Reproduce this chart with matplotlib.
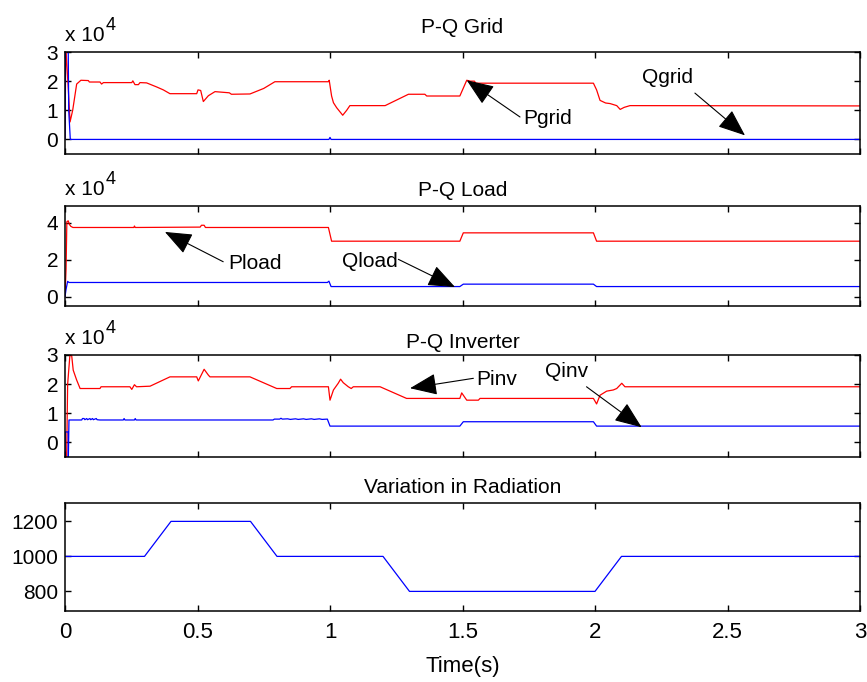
import matplotlib

matplotlib.use("Agg")
import matplotlib.pyplot as plt
import numpy as np

plt.rcParams["font.family"] = ["Liberation Sans", "DejaVu Sans"]
plt.rcParams["font.size"] = 15

# --- data (power in W / VAr) ---
t_pgrid = [0.0, 0.003, 0.012, 0.019, 0.029, 0.044, 0.060, 0.088, 0.092, 0.132,
           0.138, 0.145, 0.252, 0.256, 0.264, 0.277, 0.283, 0.308, 0.346, 0.371,
           0.396, 0.497, 0.502, 0.512, 0.522, 0.541, 0.566, 0.620, 0.628, 0.698,
           0.750, 0.792, 0.994, 0.997, 1.006, 1.013, 1.025, 1.048, 1.063, 1.075,
           1.208, 1.296, 1.358, 1.365, 1.490, 1.516, 1.530, 1.545, 1.550, 1.994,
           2.006, 2.019, 2.040, 2.057, 2.082, 2.095, 2.110, 2.132, 3.0]
p_grid = [0, 32000, 18000, 6000, 10000, 19000, 20300, 20200, 19700, 19700,
          19000, 19500, 19500, 20100, 18800, 18800, 19500, 19400, 18000, 17000,
          15700, 15700, 17000, 16800, 13000, 15000, 16400, 16000, 15500, 15600,
          17500, 19800, 19800, 20300, 14900, 12600, 10900, 8300, 10000, 11600,
          11600, 15500, 15500, 14900, 14900, 20300, 20000, 20000, 19300, 19300,
          17000, 13400, 12500, 12300, 11600, 10300, 11000, 11600, 11500]

t_qgrid = [0.0, 0.002, 0.012, 0.014, 0.020, 0.996, 1.0, 1.004, 3.0]
q_grid = [0, 35000, 33000, 10000, 0, 0, 700, 0, 0]

t_pload = [0.0, 0.004, 0.007, 0.012, 0.017, 0.022, 0.030, 0.260, 0.262, 0.265,
           0.510, 0.515, 0.525, 0.530, 0.994, 1.006, 1.490, 1.503, 1.994, 2.006, 3.0]
p_load = [0, 15000, 40500, 41000, 39000, 38000, 37400, 37400, 38200, 37400,
          37600, 38600, 38600, 37400, 37400, 30000, 30000, 34500, 34500, 30000, 30000]

t_qload = [0.0, 0.004, 0.010, 0.015, 0.990, 0.996, 1.004, 1.490, 1.503, 1.994, 2.006, 3.0]
q_load = [0, 4000, 8300, 7700, 7700, 8400, 5500, 5500, 6800, 6800, 5500, 5500]

t_pinv = [0.0, 0.006, 0.010, 0.019, 0.025, 0.031, 0.044, 0.057, 0.132, 0.136,
          0.245, 0.252, 0.262, 0.270, 0.321, 0.396, 0.497, 0.503, 0.525, 0.541,
          0.547, 0.698, 0.799, 0.849, 0.855, 0.994, 1.000, 1.013, 1.031, 1.040,
          1.050, 1.069, 1.080, 1.088, 1.189, 1.289, 1.490, 1.497, 1.516, 1.560,
          1.566, 1.994, 2.006, 2.019, 2.044, 2.069, 2.082, 2.101, 2.113, 3.0]
p_inv = [-6000, -6000, 20000, 30500, 30000, 24800, 21400, 18500, 18500, 19100,
         19100, 18200, 19800, 19100, 19300, 22500, 22500, 21100, 25100, 23100,
         22500, 22500, 18500, 18500, 19100, 19100, 14500, 18000, 20300, 21700,
         20500, 19100, 18500, 19100, 19100, 15100, 15100, 17000, 14500, 14500,
         15100, 15100, 13200, 16200, 17600, 18000, 18500, 20300, 19100, 19100]

t_qinv = [0.0, 0.001, 0.012, 0.0125, 0.015, 0.063, 0.066, 0.072, 0.075, 0.082,
          0.085, 0.094, 0.097, 0.104, 0.107, 0.118, 0.121, 0.132, 0.220, 0.223,
          0.226, 0.262, 0.265, 0.268, 0.785, 0.790, 0.810, 0.815, 0.820, 0.840,
          0.850, 0.870, 0.880, 0.900, 0.910, 0.930, 0.940, 0.960, 0.970, 0.990,
          1.000, 1.490, 1.503, 1.994, 2.006, 3.0]
q_inv = [-6000, 3600, 3600, -6000, 7700, 7700, 8200, 8200, 7800, 8200,
         7800, 8200, 7800, 8200, 7800, 8200, 7800, 7700, 7700, 8200,
         7700, 7700, 8200, 7700, 7700, 8000, 8000, 8300, 8000, 8100,
         7900, 8100, 7900, 8100, 7900, 8100, 7900, 8100, 7900, 8000,
         5600, 5600, 7100, 7100, 5600, 5600]

t_rad = [0.0, 0.3, 0.4, 0.7, 0.8, 1.2, 1.3, 2.0, 2.1, 3.0]
radiation = [1000, 1000, 1200, 1200, 1000, 1000, 800, 800, 1000, 1000]

titles = ["P-Q Grid", "P-Q Load", "P-Q Inverter", "Variation in Radiation"]
x_ticks = [0, 0.5, 1, 1.5, 2, 2.5, 3]

scale = 1e4
fig = plt.figure(figsize=(8.67, 6.82), dpi=100)
left, width = 65 / 867, 795 / 867
boxes = [(52, 154), (206, 306), (355, 457), (503, 611)]
axes = []
for top, bot in boxes:
    axes.append(fig.add_axes([left, 1 - bot / 682, width, (bot - top) / 682]))

ax1, ax2, ax3, ax4 = axes
ax1.plot(t_pgrid, np.array(p_grid) / scale, color="#ff0000", lw=0.9)
ax1.plot(t_qgrid, np.array(q_grid) / scale, color="#0000ff", lw=0.9)
ax1.set_ylim(-0.5, 3)
ax1.set_yticks([0, 1, 2, 3])

ax2.plot(t_pload, np.array(p_load) / scale, color="#ff0000", lw=0.9)
ax2.plot(t_qload, np.array(q_load) / scale, color="#0000ff", lw=0.9)
ax2.set_ylim(-0.5, 4.9)
ax2.set_yticks([0, 2, 4])

ax3.plot(t_pinv, np.array(p_inv) / scale, color="#ff0000", lw=0.9)
ax3.plot(t_qinv, np.array(q_inv) / scale, color="#0000ff", lw=0.9)
ax3.set_ylim(-0.5, 3)
ax3.set_yticks([0, 1, 2, 3])

ax4.plot(t_rad, radiation, color="#0000ff", lw=0.9)
ax4.set_ylim(688, 1305)
ax4.set_yticks([800, 1000, 1200])

pads = [13.5, 7, 5, 7]
for ax, title, pad in zip(axes, titles, pads):
    ax.set_xlim(0, 3)
    ax.set_xticks(x_ticks)
    ax.set_title(title, fontsize=15, pad=pad)
    ax.tick_params(direction="in", top=True, right=True, length=4, width=1)
    ax.tick_params(axis="x", pad=8, labelsize=16)
    ax.tick_params(axis="y", pad=5)
    for s in ax.spines.values():
        s.set_linewidth(1.1)
    if ax is not ax4:
        ax.tick_params(labelbottom=False)
        ax.annotate("x 10", xy=(0, 1), xycoords="axes fraction", xytext=(0, 8),
                    textcoords="offset points", ha="left", va="baseline", fontsize=15)
        ax.annotate("4", xy=(0, 1), xycoords="axes fraction", xytext=(29.5, 16),
                    textcoords="offset points", ha="left", va="baseline", fontsize=13)

ax4.set_xticklabels(["0", "0.5", "1", "1.5", "2", "2.5", "3"])
ax4.set_xlabel("Time(s)", fontsize=16, labelpad=9)

arrow = dict(arrowstyle="-|>,head_length=0.85,head_width=0.34", color="black",
             lw=0.8, mutation_scale=20, shrinkA=0, shrinkB=0)
notes = [
    (ax1, "Pgrid", (1.728, 0.72), (1.717, 0.77), (1.516, 2.03)),
    (ax1, "Qgrid", (2.177, 2.14), (2.377, 1.59), (2.566, 0.14)),
    (ax2, "Pload", (0.615, 1.82), (0.597, 1.89), (0.377, 3.50)),
    (ax2, "Qload", (1.044, 1.93), (1.258, 2.02), (1.472, 0.52)),
    (ax3, "Pinv", (1.553, 2.17), (1.541, 2.20), (1.302, 1.86)),
    (ax3, "Qinv", (1.811, 2.42), (1.968, 1.91), (2.176, 0.52)),
]
for ax, label, txt, tail, tip in notes:
    ax.text(txt[0], txt[1], label, ha="left", va="center", fontsize=15)
    ax.annotate("", xy=tip, xytext=tail, arrowprops=arrow)

fig.savefig("out.png", dpi=100)
